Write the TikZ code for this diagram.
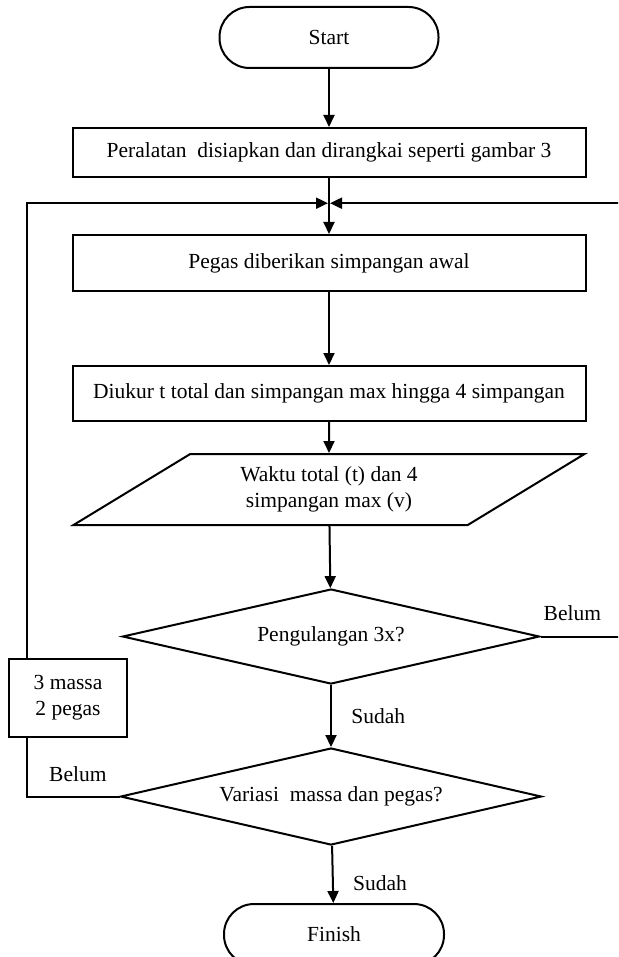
\documentclass[tikz,border=0pt]{standalone}
\usepackage{fontspec}
\setmainfont{Liberation Serif}
\usepackage{tikz}
\usetikzlibrary{shapes.geometric, arrows.meta, positioning, calc}
\tikzstyle{terminal} = [rectangle, minimum width=219pt, minimum height=61pt, text centered, draw=black, rounded corners=30pt]
\tikzstyle{process} = [rectangle, minimum width=513pt, text centered, draw=black]
\tikzstyle{io} = [trapezium, trapezium left angle=34, trapezium right angle=146, trapezium stretches=true, minimum width=512pt, minimum height=71pt, align=center, draw=black]
\tikzstyle{decision} = [diamond, aspect=4.4, minimum width=417pt, minimum height=95pt, text centered, draw=black]
\tikzstyle{sidebox} = [rectangle, minimum width=118pt, minimum height=78pt, align=center, draw=black]
\tikzstyle{arrow} = [line width=2pt, -{Triangle[length=12pt,width=11pt]}]
\tikzstyle{line} = [line width=2pt]

\begin{document}
\begin{tikzpicture}[x=1pt, y=1pt, line width=2pt, font=\fontsize{21.5}{26}\selectfont]
        \useasboundingbox (0,0) rectangle (618,-957);
        \clip (0,0) rectangle (618,-957);

        \node (start) [terminal] at (329,-37.5) {Start};
        \node (prep) [process, minimum height=49pt, below=58pt of start] {Peralatan~ disiapkan dan dirangkai seperti gambar 3};
        \node (spring) [process, minimum height=56pt, below=56pt of prep] {Pegas diberikan simpangan awal};
        \node (measure) [process, minimum height=55pt, below=73pt of spring] {Diukur t total dan simpangan max hingga 4 simpangan};
        \node (data) [io, below=31pt of measure] {Waktu total (t) dan 4\\simpangan max (v)};
        \node (repeat) [decision, below=62pt of data, xshift=2pt] {Pengulangan 3x?};
        \node (vary) [decision, minimum width=421pt, minimum height=97pt, below=62pt of repeat] {Variasi~ massa dan pegas?};
        \node (finish) [terminal, minimum width=220pt, below=57pt of vary, xshift=3pt] {Finish};
        \node (variant) [sidebox] at (68,-698) {3 massa\\2 pegas};

        \coordinate (merge) at ($(prep.south)!0.45!(spring.north)$);
        \coordinate (leftrail) at (27,0);
        \coordinate (rightrail) at (640,0);

        \draw [arrow] (start) -- (prep);
        \draw [arrow] (prep) -- (spring);
        \draw [arrow] (spring) -- (measure);
        \draw [arrow] (measure) -- (data);
        \draw [arrow] (data) -- (repeat);
        \draw [arrow] (repeat) -- node[right, xshift=16pt] {Sudah} (vary);
        \draw [arrow] (vary) -- node[right, xshift=16pt, pos=0.65] {Sudah} (finish);

        \draw [arrow, shorten >=1pt] (repeat.east) -- node[above, pos=0.32, yshift=11pt] {Belum} (rightrail |- repeat.east) |- (merge);
        \draw [line] (vary.west) -- node[above, pos=0.45, yshift=10pt] {Belum} (leftrail |- vary.west) -- (variant.south -| leftrail);
        \draw [arrow, shorten >=1pt] (variant.north -| leftrail) |- (merge);
    \end{tikzpicture}
\end{document}
